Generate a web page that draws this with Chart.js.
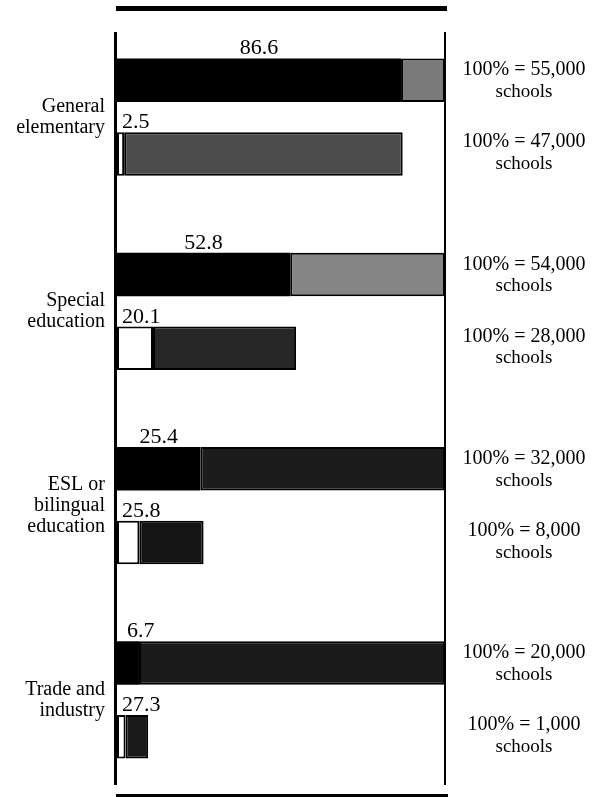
<!DOCTYPE html>
<html>
<head>
<meta charset="utf-8">
<script src="https://cdn.jsdelivr.net/npm/chart.js@4/dist/chart.umd.min.js"></script>
<style>
  html, body { margin: 0; padding: 0; background: #ffffff; }
  #wrap { width: 593px; height: 797px; }
</style>
</head>
<body>
<div id="wrap"><canvas id="c" width="593" height="797"></canvas></div>
<script>
// ---- data ----
const categories = [
  ['General', 'elementary'],
  ['Special', 'education'],
  ['ESL or', 'bilingual', 'education'],
  ['Trade and', 'industry']
];
// top bar: black share (% of all schools offering the program)
const topBlackPct = [86.6, 52.8, 25.4, 6.7];
// bottom bar: white share (% of the subset)
const bottomWhitePct = [2.5, 20.1, 25.8, 27.3];
// length of bottom bar, in % of the top bar
const bottomBarLength = [87.1, 54.6, 26.4, 9.5];
// "100% =" totals
const topSchools = ['55,000', '54,000', '32,000', '20,000'];
const bottomSchools = ['47,000', '28,000', '8,000', '1,000'];

// ---- styles ----
const topRestColors = ['#7a7a7a', '#858585', '#1c1c1c', '#1a1a1a'];
const bottomRestColors = ['#4c4c4c', '#262626', '#141414', '#1a1a1a'];
const SERIF = '"Liberation Serif", "DejaVu Serif", serif';

const topRest = topBlackPct.map(v => 100 - v);
const bottomWhite = bottomBarLength.map((L, i) => L * bottomWhitePct[i] / 100);
const bottomRest = bottomBarLength.map((L, i) => L - bottomWhite[i]);

const labelPlugin = {
  id: 'labels',
  afterDraw(chart) {
    const ctx = chart.ctx;
    const ca = chart.chartArea;
    const yScale = chart.scales.y;
    ctx.save();
    // rules and frame lines
    ctx.fillStyle = '#000';
    ctx.fillRect(ca.left - 1, 6, ca.right - ca.left + 3, 5);
    ctx.fillRect(ca.left - 1, 794, ca.right - ca.left + 4, 3);
    ctx.fillRect(ca.left - 3, 32, 3, 753);
    ctx.fillRect(ca.right - 1, 32, 2, 753);

    const mTopBlack = chart.getDatasetMeta(0).data;
    const mBotWhite = chart.getDatasetMeta(2).data;
    ctx.fillStyle = '#000';
    for (let i = 0; i < categories.length; i++) {
      // category label
      const cy = yScale.getPixelForValue(i);
      const lines = categories[i];
      ctx.font = '20px ' + SERIF;
      ctx.textAlign = 'right';
      ctx.textBaseline = 'middle';
      const pitch = 21;
      lines.forEach((t, k) => {
        ctx.fillText(t, 105, cy + (k - (lines.length - 1) / 2) * pitch);
      });

      // top bar value label
      const tb = mTopBlack[i].getProps(['x', 'y', 'base', 'height'], true);
      ctx.font = '22px ' + SERIF;
      const tTxt = topBlackPct[i].toFixed(1);
      const tw = ctx.measureText(tTxt).width;
      let tl = (tb.base + tb.x) / 2 - tw / 2;
      tl = Math.max(tl, ca.left + 10);
      ctx.textAlign = 'left';
      ctx.textBaseline = 'alphabetic';
      ctx.fillText(tTxt, tl, tb.y - tb.height / 2 - 4);

      // bottom bar value label
      const bb = mBotWhite[i].getProps(['x', 'y', 'base', 'height'], true);
      ctx.fillText(bottomWhitePct[i].toFixed(1), ca.left + 5, bb.y - bb.height / 2 - 4);

      // right-hand totals
      ctx.textAlign = 'center';
      ctx.textBaseline = 'middle';
      ctx.font = '20px ' + SERIF;
      ctx.fillText('100% = ' + topSchools[i], 524, tb.y - 10);
      ctx.font = '19px ' + SERIF;
      ctx.fillText('schools', 524, tb.y + 12);
      ctx.font = '20px ' + SERIF;
      ctx.fillText('100% = ' + bottomSchools[i], 524, bb.y - 12);
      ctx.font = '19px ' + SERIF;
      ctx.fillText('schools', 524, bb.y + 10);
    }
    ctx.restore();
  }
};

new Chart(document.getElementById('c'), {
  type: 'bar',
  data: {
    labels: categories.map(c => c.join(' ')),
    datasets: [
      { label: 'top share', data: topBlackPct, stack: 'top',
        backgroundColor: '#000', borderColor: '#000', borderWidth: 0, borderSkipped: false },
      { label: 'top rest', data: topRest, stack: 'top',
        backgroundColor: topRestColors, borderColor: '#000', borderWidth: 2, borderSkipped: false },
      { label: 'subset share', data: bottomWhite, stack: 'bottom',
        backgroundColor: '#fff', borderColor: '#000', borderWidth: 2, borderSkipped: false },
      { label: 'subset rest', data: bottomRest, stack: 'bottom',
        backgroundColor: bottomRestColors, borderColor: '#000', borderWidth: 2, borderSkipped: false }
    ]
  },
  options: {
    indexAxis: 'y',
    responsive: false,
    animation: false,
    events: [],
    categoryPercentage: 0.76,
    barPercentage: 0.59,
    layout: { padding: { left: 117, right: 148, top: 20, bottom: 0 } },
    scales: {
      x: { stacked: true, min: 0, max: 100, display: false },
      y: { stacked: true, display: false }
    },
    plugins: { legend: { display: false }, tooltip: { enabled: false } }
  },
  plugins: [labelPlugin]
});
</script>
</body>
</html>
